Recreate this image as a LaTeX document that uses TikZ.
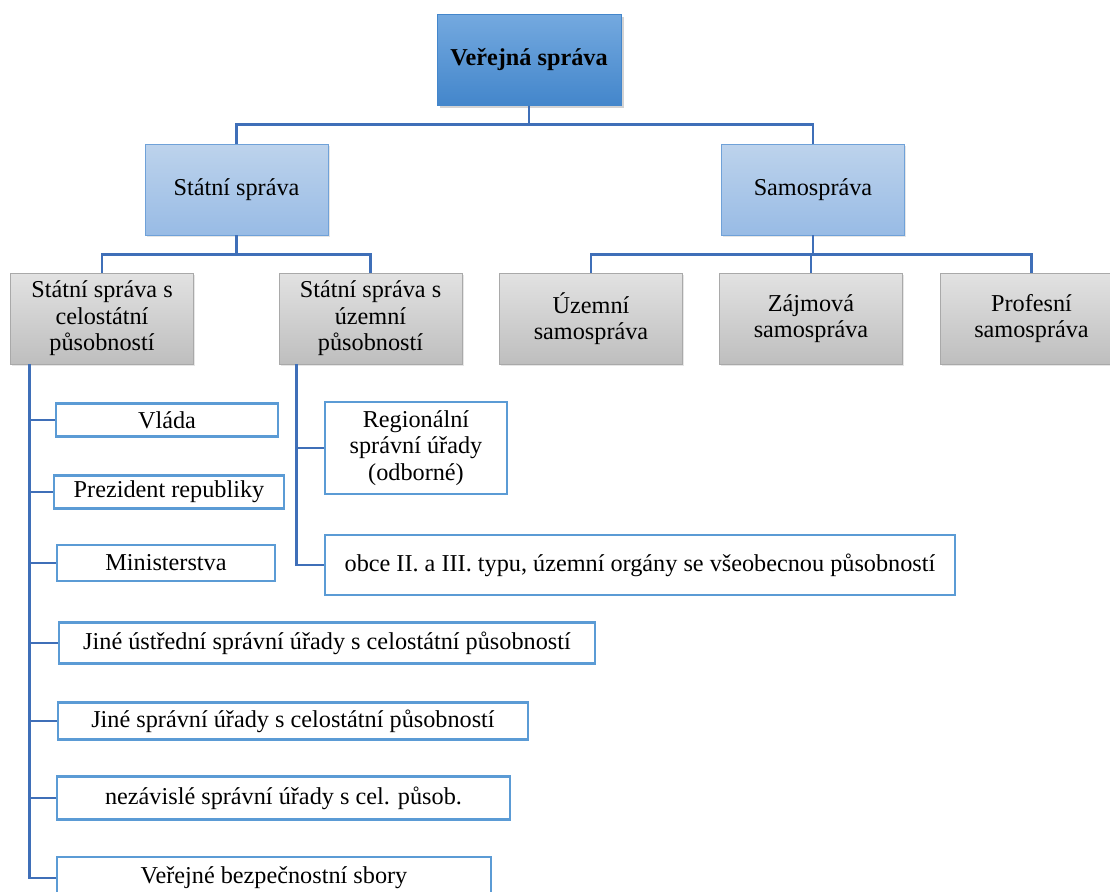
\documentclass[tikz,border=0pt]{standalone}
\usepackage{fontspec}
\setmainfont{Liberation Serif}
\usepackage{tikz}
\usetikzlibrary{shadows}
\definecolor{linkblue}{HTML}{3F6FB8}
\definecolor{topup}{HTML}{74A9DF}
\definecolor{topdown}{HTML}{4386CB}
\definecolor{midup}{HTML}{BDD3EC}
\definecolor{middown}{HTML}{98BBE5}
\definecolor{midline}{HTML}{6FA1D8}
\definecolor{greyup}{HTML}{E2E2E2}
\definecolor{greydown}{HTML}{BEBEBE}
\definecolor{greyline}{HTML}{A9A9A9}
\definecolor{leafline}{HTML}{5B9BD5}
\begin{document}
\begin{tikzpicture}[x=0.02cm,y=-0.02cm,
  every node/.style={font=\fontsize{13.8}{15}\selectfont,align=center,inner sep=0pt},
  head/.style={draw=topdown,top color=topup,bottom color=topdown,minimum width=3.68cm,
    minimum height=1.82cm,font=\fontsize{13.8}{15}\selectfont\bfseries,
    drop shadow={shadow xshift=1.5pt,shadow yshift=-1.5pt,opacity=0.35}},
  mid/.style={draw=midline,top color=midup,bottom color=middown,minimum width=3.66cm,minimum height=1.82cm,
    drop shadow={shadow xshift=1pt,shadow yshift=-1pt,opacity=0.2}},
  grey/.style={draw=greyline,top color=greyup,bottom color=greydown,minimum width=3.66cm,minimum height=1.82cm,
    drop shadow={shadow xshift=1pt,shadow yshift=-1pt,opacity=0.2}},
  leaf/.style={draw=leafline,line width=1.3pt,fill=white},
  link/.style={draw=linkblue,line width=1.6pt}]
\useasboundingbox (0,0) rectangle (1110,892);
% top levels
\node[head] (vs) at (529,60) {Veřejná správa};
\node[mid] (ss) at (236.5,189.5) {Státní správa};
\node[mid] (sa) at (813,189.5) {Samospráva};
\draw[link] (vs.south) -- ++(0,19) -| (ss.north);
\draw[link] (vs.south) -- ++(0,19) -| (sa.north);
% third row
\node[grey] (cel) at (102,318.5) {Státní správa s\\celostátní\\působností};
\node[grey] (uzp) at (370.5,318.5) {Státní správa s\\územní\\působností};
\node[grey] (uze) at (591,318.5) {Územní\\samospráva};
\node[grey] (zaj) at (811,318.5) {Zájmová\\samospráva};
\node[grey] (pro) at (1031.5,318.5) {Profesní\\samospráva};
\draw[link] (ss.south) -- ++(0,19) -| (cel.north);
\draw[link] (ss.south) -- ++(0,19) -| (uzp.north);
\foreach \n in {uze,zaj,pro}
  \draw[link] (sa.south) -- ++(0,19) -| (\n.north);
% celostatni branch
\node[leaf,minimum width=4.44cm,minimum height=0.66cm] (vl) at (167,420) {Vláda};
\node[leaf,minimum width=4.6cm,minimum height=0.66cm] (pr) at (169,492) {Prezident republiky};
\node[leaf,minimum width=4.36cm,minimum height=0.72cm] (mi) at (166,563) {Ministerstva};
\node[leaf,minimum width=10.72cm,minimum height=0.82cm] (ju) at (327,643) {Jiné ústřední správní úřady s celostátní působností};
\node[leaf,minimum width=9.4cm,minimum height=0.74cm] (js) at (293,721) {Jiné správní úřady s celostátní působností};
\node[leaf,minimum width=9.06cm,minimum height=0.86cm] (nz) at (283.5,798) {nezávislé správní úřady s cel. působ.};
\node[leaf,minimum width=8.68cm,minimum height=0.84cm] (vb) at (274,878) {Veřejné bezpečnostní sbory};
\foreach \n in {vl,pr,mi,ju,js,nz,vb}
  \draw[link] (cel.south west) ++(19,0) |- (\n.west);
% uzemni branch
\node[leaf,minimum width=3.64cm,minimum height=1.84cm] (re) at (416,448) {Regionální\\správní úřady\\(odborné)};
\node[leaf,minimum width=12.6cm,minimum height=1.2cm] (ob) at (640,565) {obce II. a III. typu, územní orgány se všeobecnou působností};
\foreach \n in {re,ob}
  \draw[link] (uzp.south west) ++(18,0) |- (\n.west);
\end{tikzpicture}
\end{document}
